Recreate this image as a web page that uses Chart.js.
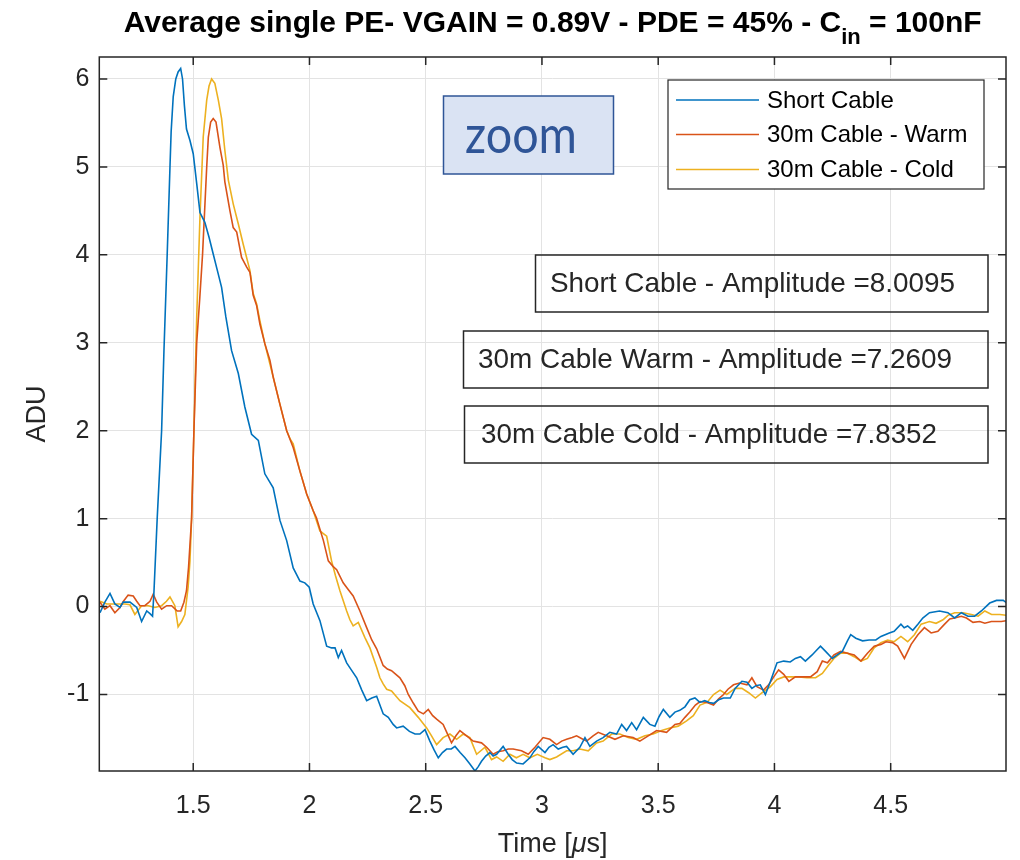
<!DOCTYPE html>
<html>
<head>
<meta charset="utf-8">
<script src="https://cdn.jsdelivr.net/npm/chart.js@4.4.1/dist/chart.umd.min.js"></script>
<style>
  html, body { margin: 0; padding: 0; background: #ffffff; }
  #wrap { width: 1020px; height: 860px; position: relative; }
</style>
</head>
<body>
<div id="wrap"><canvas id="myChart"></canvas></div>
<script>
// axis ticks
const xTicks = [1.5, 2, 2.5, 3, 3.5, 4, 4.5];
const yTicks = [-1, 0, 1, 2, 3, 4, 5, 6];

// Short Cable (time in us, ADU)
const shortT = [1.099, 1.120, 1.142, 1.163, 1.185, 1.199, 1.228, 1.257, 1.278, 1.300, 1.314, 1.325, 1.331, 1.345, 1.364, 1.374, 1.388, 1.400, 1.405, 1.414, 1.425, 1.435, 1.446, 1.454, 1.462, 1.471, 1.486, 1.500, 1.515, 1.529, 1.550, 1.568, 1.586, 1.604, 1.622, 1.640, 1.665, 1.694, 1.722, 1.751, 1.780, 1.808, 1.844, 1.873, 1.902, 1.930, 1.959, 1.980, 1.999, 2.016, 2.045, 2.074, 2.095, 2.110, 2.124, 2.138, 2.160, 2.180, 2.203, 2.225, 2.246, 2.268, 2.289, 2.317, 2.339, 2.360, 2.375, 2.403, 2.430, 2.454, 2.475, 2.497, 2.518, 2.536, 2.554, 2.572, 2.590, 2.610, 2.626, 2.648, 2.669, 2.690, 2.712, 2.726, 2.740, 2.758, 2.776, 2.790, 2.805, 2.833, 2.855, 2.872, 2.891, 2.919, 2.948, 2.965, 2.984, 3.013, 3.030, 3.048, 3.070, 3.090, 3.106, 3.134, 3.163, 3.185, 3.206, 3.235, 3.263, 3.292, 3.321, 3.343, 3.364, 3.386, 3.407, 3.436, 3.464, 3.486, 3.504, 3.522, 3.550, 3.572, 3.593, 3.615, 3.636, 3.658, 3.679, 3.700, 3.720, 3.738, 3.760, 3.781, 3.810, 3.831, 3.860, 3.882, 3.903, 3.920, 3.939, 3.961, 3.983, 4.011, 4.040, 4.068, 4.090, 4.112, 4.133, 4.162, 4.180, 4.198, 4.220, 4.249, 4.270, 4.292, 4.314, 4.328, 4.350, 4.379, 4.407, 4.436, 4.458, 4.494, 4.515, 4.544, 4.558, 4.573, 4.595, 4.617, 4.638, 4.667, 4.710, 4.746, 4.775, 4.804, 4.832, 4.861, 4.890, 4.926, 4.955, 4.984, 5.000];
const shortV = [-0.07, 0.05, 0.15, 0.03, -0.01, 0.05, 0.05, -0.01, -0.17, -0.05, -0.08, -0.11, 0.16, 1.00, 2.00, 2.90, 4.00, 5.00, 5.40, 5.80, 6.00, 6.08, 6.12, 6.00, 5.70, 5.43, 5.30, 5.15, 4.81, 4.48, 4.37, 4.20, 4.01, 3.82, 3.63, 3.30, 2.91, 2.65, 2.27, 1.96, 1.89, 1.51, 1.35, 0.98, 0.75, 0.44, 0.29, 0.27, 0.22, 0.03, -0.16, -0.45, -0.47, -0.47, -0.58, -0.50, -0.64, -0.72, -0.81, -0.95, -1.07, -1.04, -1.02, -1.22, -1.26, -1.34, -1.38, -1.36, -1.42, -1.45, -1.45, -1.40, -1.53, -1.63, -1.72, -1.66, -1.62, -1.62, -1.59, -1.66, -1.72, -1.79, -1.87, -1.82, -1.76, -1.70, -1.66, -1.70, -1.68, -1.59, -1.68, -1.74, -1.78, -1.79, -1.72, -1.65, -1.59, -1.66, -1.60, -1.57, -1.62, -1.60, -1.59, -1.68, -1.60, -1.49, -1.59, -1.53, -1.49, -1.43, -1.45, -1.34, -1.41, -1.32, -1.40, -1.26, -1.34, -1.36, -1.25, -1.17, -1.26, -1.20, -1.18, -1.14, -1.06, -1.04, -1.09, -1.07, -1.09, -1.10, -1.06, -1.04, -1.04, -0.93, -0.85, -0.86, -0.93, -0.90, -0.89, -1.00, -0.85, -0.64, -0.62, -0.63, -0.59, -0.57, -0.62, -0.55, -0.50, -0.45, -0.51, -0.59, -0.55, -0.51, -0.39, -0.32, -0.36, -0.39, -0.38, -0.38, -0.34, -0.30, -0.28, -0.20, -0.24, -0.22, -0.27, -0.20, -0.13, -0.07, -0.05, -0.07, -0.13, -0.07, -0.11, -0.11, -0.05, 0.04, 0.07, 0.07, 0.04];

// 30m Cable - Warm
const warmT = [1.099, 1.120, 1.142, 1.163, 1.185, 1.200, 1.220, 1.242, 1.257, 1.271, 1.292, 1.314, 1.328, 1.343, 1.364, 1.386, 1.407, 1.431, 1.446, 1.460, 1.471, 1.480, 1.493, 1.503, 1.515, 1.528, 1.540, 1.558, 1.565, 1.575, 1.586, 1.598, 1.615, 1.629, 1.636, 1.658, 1.672, 1.687, 1.708, 1.730, 1.744, 1.758, 1.773, 1.787, 1.808, 1.830, 1.844, 1.873, 1.902, 1.930, 1.959, 1.988, 2.016, 2.030, 2.060, 2.081, 2.100, 2.117, 2.145, 2.165, 2.188, 2.217, 2.246, 2.268, 2.289, 2.317, 2.335, 2.353, 2.389, 2.410, 2.425, 2.447, 2.468, 2.490, 2.511, 2.530, 2.547, 2.575, 2.594, 2.611, 2.630, 2.647, 2.676, 2.704, 2.740, 2.762, 2.790, 2.810, 2.833, 2.855, 2.876, 2.912, 2.941, 2.970, 3.005, 3.034, 3.063, 3.085, 3.106, 3.130, 3.149, 3.170, 3.192, 3.220, 3.242, 3.278, 3.314, 3.350, 3.392, 3.421, 3.457, 3.493, 3.536, 3.572, 3.593, 3.615, 3.636, 3.660, 3.680, 3.710, 3.738, 3.760, 3.781, 3.800, 3.824, 3.850, 3.882, 3.903, 3.925, 3.953, 3.975, 3.997, 4.018, 4.040, 4.062, 4.090, 4.127, 4.155, 4.184, 4.206, 4.228, 4.256, 4.285, 4.314, 4.343, 4.372, 4.400, 4.429, 4.458, 4.480, 4.508, 4.530, 4.559, 4.588, 4.617, 4.645, 4.674, 4.703, 4.732, 4.754, 4.775, 4.804, 4.826, 4.854, 4.883, 4.905, 4.933, 4.976, 5.000];
const warmV = [0.05, -0.03, 0.01, -0.07, -0.01, 0.06, 0.13, 0.12, 0.06, 0.01, 0.01, 0.06, 0.14, 0.05, -0.03, 0.01, 0.01, -0.05, -0.05, 0.05, 0.18, 0.45, 1.00, 2.00, 3.00, 3.50, 4.00, 5.00, 5.34, 5.51, 5.55, 5.51, 5.22, 5.02, 4.83, 4.50, 4.31, 4.26, 3.97, 3.86, 3.80, 3.54, 3.42, 3.21, 2.99, 2.80, 2.61, 2.30, 2.00, 1.81, 1.54, 1.28, 1.09, 1.01, 0.75, 0.52, 0.46, 0.42, 0.27, 0.20, 0.12, -0.05, -0.24, -0.38, -0.48, -0.67, -0.71, -0.73, -0.81, -0.90, -1.00, -1.10, -1.19, -1.22, -1.17, -1.24, -1.28, -1.34, -1.45, -1.55, -1.47, -1.41, -1.47, -1.53, -1.55, -1.60, -1.68, -1.65, -1.64, -1.62, -1.62, -1.64, -1.68, -1.60, -1.49, -1.51, -1.57, -1.53, -1.51, -1.49, -1.47, -1.50, -1.53, -1.47, -1.43, -1.47, -1.51, -1.47, -1.49, -1.53, -1.47, -1.41, -1.43, -1.34, -1.33, -1.26, -1.20, -1.12, -1.08, -1.09, -1.12, -1.05, -1.00, -0.94, -0.89, -0.87, -0.89, -0.81, -0.91, -0.95, -0.89, -0.80, -0.72, -0.77, -0.85, -0.80, -0.80, -0.80, -0.74, -0.62, -0.64, -0.55, -0.51, -0.53, -0.55, -0.62, -0.53, -0.45, -0.43, -0.40, -0.41, -0.45, -0.59, -0.43, -0.32, -0.24, -0.30, -0.28, -0.20, -0.14, -0.13, -0.11, -0.13, -0.18, -0.17, -0.19, -0.17, -0.17, -0.16];

// 30m Cable - Cold
const coldT = [1.099, 1.128, 1.156, 1.185, 1.206, 1.228, 1.249, 1.278, 1.307, 1.335, 1.364, 1.385, 1.400, 1.421, 1.435, 1.450, 1.464, 1.478, 1.486, 1.493, 1.503, 1.515, 1.529, 1.543, 1.558, 1.568, 1.579, 1.593, 1.608, 1.622, 1.636, 1.651, 1.672, 1.694, 1.715, 1.744, 1.758, 1.773, 1.787, 1.808, 1.844, 1.873, 1.902, 1.918, 1.930, 1.959, 1.988, 2.016, 2.045, 2.074, 2.095, 2.112, 2.131, 2.160, 2.174, 2.188, 2.210, 2.238, 2.260, 2.289, 2.303, 2.317, 2.332, 2.353, 2.389, 2.432, 2.468, 2.504, 2.525, 2.547, 2.575, 2.604, 2.633, 2.661, 2.690, 2.719, 2.755, 2.783, 2.805, 2.833, 2.862, 2.890, 2.919, 2.948, 2.980, 3.013, 3.034, 3.063, 3.106, 3.134, 3.163, 3.199, 3.235, 3.263, 3.300, 3.335, 3.371, 3.407, 3.443, 3.478, 3.515, 3.550, 3.586, 3.622, 3.651, 3.680, 3.710, 3.738, 3.766, 3.795, 3.831, 3.860, 3.889, 3.918, 3.947, 3.983, 4.011, 4.040, 4.076, 4.105, 4.140, 4.177, 4.206, 4.235, 4.256, 4.285, 4.314, 4.343, 4.372, 4.400, 4.429, 4.458, 4.487, 4.515, 4.544, 4.573, 4.602, 4.631, 4.667, 4.695, 4.725, 4.746, 4.775, 4.811, 4.847, 4.876, 4.905, 4.934, 4.970, 5.000];
const coldV = [0.06, 0.03, 0.03, 0.03, 0.03, 0.02, -0.09, 0.01, 0.01, -0.01, 0.01, 0.06, 0.11, 0.01, -0.23, -0.17, -0.09, 0.22, 0.52, 1.00, 2.00, 3.29, 4.43, 5.34, 5.76, 5.92, 6.00, 5.95, 5.76, 5.55, 5.19, 4.85, 4.58, 4.35, 4.12, 3.82, 3.56, 3.44, 3.25, 2.99, 2.61, 2.30, 2.00, 1.90, 1.85, 1.54, 1.28, 1.09, 0.86, 0.80, 0.52, 0.35, 0.18, -0.05, -0.15, -0.22, -0.18, -0.35, -0.47, -0.69, -0.81, -0.88, -0.94, -0.96, -1.07, -1.15, -1.26, -1.38, -1.47, -1.57, -1.49, -1.45, -1.51, -1.45, -1.49, -1.68, -1.60, -1.74, -1.71, -1.76, -1.68, -1.72, -1.68, -1.72, -1.68, -1.72, -1.74, -1.71, -1.64, -1.64, -1.62, -1.64, -1.55, -1.53, -1.45, -1.45, -1.49, -1.51, -1.47, -1.45, -1.41, -1.38, -1.36, -1.30, -1.24, -1.12, -1.09, -1.00, -0.95, -1.00, -0.93, -0.93, -0.98, -1.04, -0.98, -0.91, -0.83, -0.80, -0.80, -0.80, -0.81, -0.81, -0.76, -0.66, -0.59, -0.53, -0.53, -0.57, -0.62, -0.59, -0.47, -0.41, -0.38, -0.40, -0.34, -0.40, -0.32, -0.20, -0.17, -0.19, -0.15, -0.10, -0.07, -0.07, -0.09, -0.11, -0.05, -0.09, -0.09, -0.10];

const seriesNames = ['Short Cable', '30m Cable - Warm', '30m Cable - Cold'];
const seriesColors = ['#0072BD', '#D95319', '#EDB120'];
const amplitudeNotes = ['Short Cable - Amplitude =8.0095', '30m Cable Warm - Amplitude =7.2609', '30m Cable Cold - Amplitude =7.8352'];

function toPoints(ts, vs) {
    return ts.map((t, i) => ({ x: t, y: vs[i] }));
}

const axisColor = '#262626';
const sansFont = '"Liberation Sans", Arial, Helvetica, sans-serif';

// title, axis labels, inward ticks, box, legend and the pasted boxes
const decorPlugin = {
    id: 'decor',
    afterDraw(chart) {
        const ctx = chart.ctx;
        const area = chart.chartArea;
        const xs = chart.scales.x;
        const ys = chart.scales.y;
        ctx.save();

        // box around axes
        ctx.strokeStyle = axisColor;
        ctx.lineWidth = 1.5;
        ctx.strokeRect(area.left, area.top, area.right - area.left, area.bottom - area.top);

        // inward ticks on all four sides
        ctx.beginPath();
        xTicks.forEach(v => {
            const px = xs.getPixelForValue(v);
            ctx.moveTo(px, area.bottom); ctx.lineTo(px, area.bottom - 8);
            ctx.moveTo(px, area.top); ctx.lineTo(px, area.top + 8);
        });
        yTicks.forEach(v => {
            const py = ys.getPixelForValue(v);
            ctx.moveTo(area.left, py); ctx.lineTo(area.left + 8, py);
            ctx.moveTo(area.right, py); ctx.lineTo(area.right - 8, py);
        });
        ctx.stroke();

        // title with subscript
        ctx.fillStyle = '#000000';
        ctx.textBaseline = 'alphabetic';
        const mainTxt = 'Average single PE- VGAIN = 0.89V - PDE = 45% - C';
        const subTxt = 'in';
        const endTxt = ' = 100nF';
        ctx.font = 'bold 30px ' + sansFont;
        const w1 = ctx.measureText(mainTxt).width;
        const w3 = ctx.measureText(endTxt).width;
        ctx.font = 'bold 22px ' + sansFont;
        const w2 = ctx.measureText(subTxt).width;
        const total = w1 + w2 + w3;
        let tx = (area.left + area.right) / 2 - total / 2;
        ctx.textAlign = 'left';
        ctx.font = 'bold 30px ' + sansFont;
        ctx.fillText(mainTxt, tx, 32);
        ctx.font = 'bold 22px ' + sansFont;
        ctx.fillText(subTxt, tx + w1, 44);
        ctx.font = 'bold 30px ' + sansFont;
        ctx.fillText(endTxt, tx + w1 + w2, 32);

        // x axis label with italic mu
        ctx.fillStyle = axisColor;
        const a = 'Time [', b = '\u03bc', c = 's]';
        ctx.font = '27px ' + sansFont;
        const wa = ctx.measureText(a).width, wc = ctx.measureText(c).width;
        ctx.font = 'italic 27px ' + sansFont;
        const wb = ctx.measureText(b).width;
        let lx = (area.left + area.right) / 2 - (wa + wb + wc) / 2;
        ctx.font = '27px ' + sansFont;
        ctx.fillText(a, lx, 852);
        ctx.font = 'italic 27px ' + sansFont;
        ctx.fillText(b, lx + wa, 852);
        ctx.font = '27px ' + sansFont;
        ctx.fillText(c, lx + wa + wb, 852);

        // y axis label
        ctx.save();
        ctx.translate(45, (area.top + area.bottom) / 2);
        ctx.rotate(-Math.PI / 2);
        ctx.textAlign = 'center';
        ctx.font = '27px ' + sansFont;
        ctx.fillText('ADU', 0, 0);
        ctx.restore();

        // legend
        ctx.fillStyle = '#ffffff';
        ctx.fillRect(668, 80, 316, 109);
        ctx.strokeStyle = axisColor;
        ctx.lineWidth = 1.2;
        ctx.strokeRect(668, 80, 316, 109);
        const rows = [100, 134.5, 169.5];
        chart.data.datasets.forEach((ds, i) => {
            ctx.strokeStyle = ds.borderColor;
            ctx.lineWidth = 1.6;
            ctx.beginPath();
            ctx.moveTo(676, rows[i]);
            ctx.lineTo(759, rows[i]);
            ctx.stroke();
            ctx.fillStyle = '#000000';
            ctx.font = '24px ' + sansFont;
            ctx.textBaseline = 'middle';
            ctx.fillText(ds.label, 767, rows[i] + 1);
        });

        // zoom box
        ctx.fillStyle = '#dae3f3';
        ctx.fillRect(443.5, 96, 170, 78);
        ctx.strokeStyle = '#2f5597';
        ctx.lineWidth = 1.5;
        ctx.strokeRect(443.5, 96, 170, 78);
        ctx.fillStyle = '#2f5597';
        ctx.font = '52px Lato, "Open Sans", sans-serif';
        ctx.textBaseline = 'alphabetic';
        ctx.fillText('zoom', 465, 153, 112);

        // amplitude boxes
        const boxes = [
            { l: 535.5, t: 255, r: 988, b: 312, tx: 550, tw: 405 },
            { l: 463.5, t: 331, r: 988, b: 388, tx: 478, tw: 474 },
            { l: 464.5, t: 406, r: 988, b: 463, tx: 481, tw: 456 }
        ];
        boxes.forEach((bx, i) => {
            ctx.strokeStyle = axisColor;
            ctx.lineWidth = 1.5;
            ctx.strokeRect(bx.l, bx.t, bx.r - bx.l, bx.b - bx.t);
            ctx.fillStyle = axisColor;
            ctx.font = '28px ' + sansFont;
            ctx.textBaseline = 'middle';
            ctx.fillText(amplitudeNotes[i], bx.tx, (bx.t + bx.b) / 2 + 1, bx.tw);
        });

        ctx.restore();
    }
};

const ctx = document.getElementById('myChart').getContext('2d');
const myChart = new Chart(ctx, {
    type: 'line',
    data: {
        datasets: [
            { label: seriesNames[0], data: toPoints(shortT, shortV), borderColor: seriesColors[0] },
            { label: seriesNames[1], data: toPoints(warmT, warmV), borderColor: seriesColors[1] },
            { label: seriesNames[2], data: toPoints(coldT, coldV), borderColor: seriesColors[2] }
        ]
    },
    options: {
        responsive: true,
        maintainAspectRatio: false,
        animation: false,
        layout: { padding: { top: 57, right: 14, left: 0, bottom: 0 } },
        elements: {
            point: { radius: 0 },
            line: { borderWidth: 1.6, tension: 0, fill: false }
        },
        plugins: {
            legend: { display: false },
            tooltip: { enabled: false },
            title: { display: false }
        },
        scales: {
            x: {
                type: 'linear',
                min: 1.096,
                max: 4.996,
                afterBuildTicks: scale => { scale.ticks = xTicks.map(v => ({ value: v })); },
                afterFit: scale => { scale.height = 89; },
                grid: { color: '#e3e3e3', lineWidth: 1, drawTicks: false },
                border: { display: false },
                ticks: {
                    color: axisColor, padding: 20, maxRotation: 0,
                    font: { size: 25, family: sansFont },
                    callback: v => String(v)
                }
            },
            y: {
                min: -1.87,
                max: 6.25,
                afterBuildTicks: scale => { scale.ticks = yTicks.map(v => ({ value: v })); },
                afterFit: scale => { scale.width = 99.3; },
                grid: { color: '#e3e3e3', lineWidth: 1, drawTicks: false },
                border: { display: false },
                ticks: {
                    color: axisColor, padding: 10,
                    font: { size: 25, family: sansFont },
                    callback: v => String(v)
                }
            }
        }
    },
    plugins: [decorPlugin]
});
</script>
</body>
</html>
